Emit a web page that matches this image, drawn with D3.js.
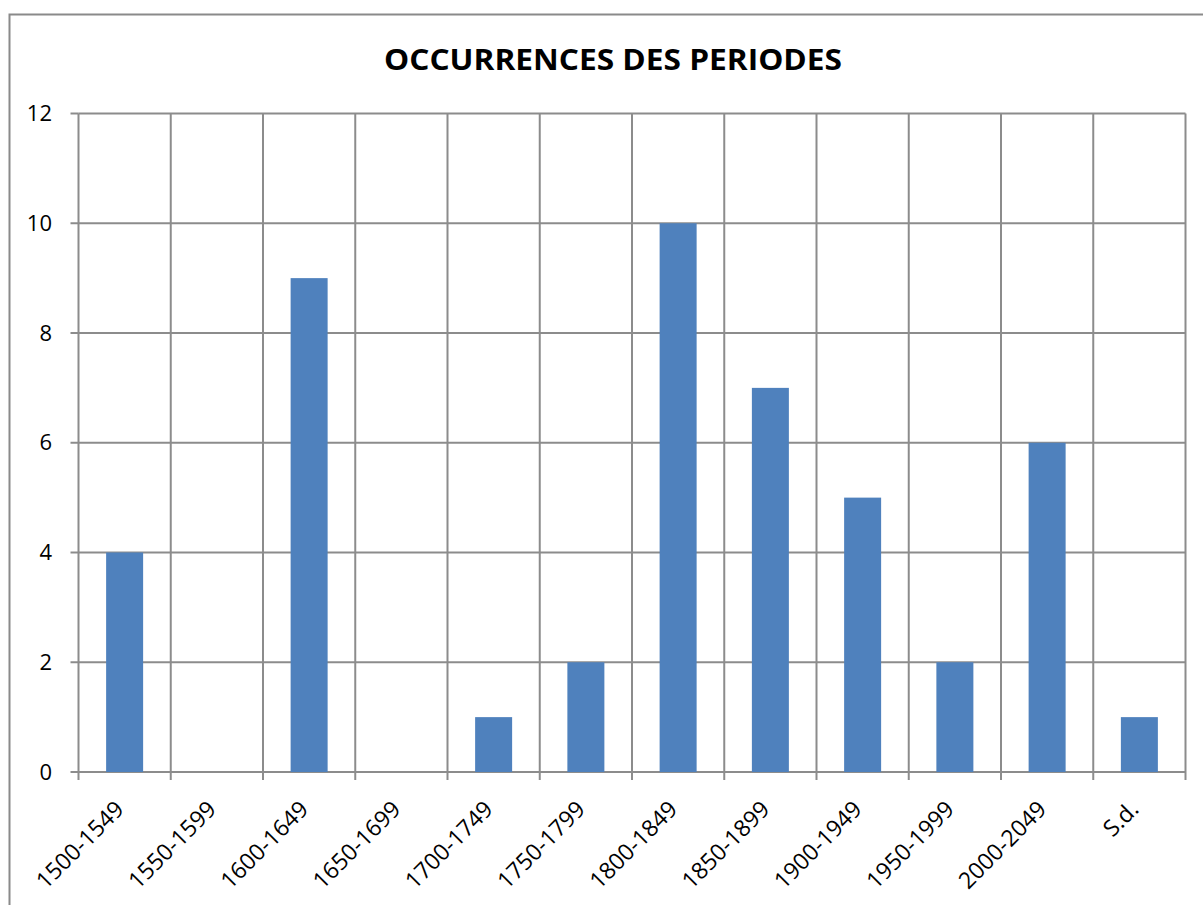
<!DOCTYPE html>
<html>
<head>
<meta charset="utf-8">
<script src="https://cdn.jsdelivr.net/npm/d3@7"></script>
<style>
  html, body { margin: 0; padding: 0; background: #fff; }
  svg { display: block; }
  text { font-family: "Open Sans", "Liberation Sans", sans-serif; fill: #000; }
</style>
</head>
<body>
<svg id="chart" width="1203" height="905"></svg>
<script>
// Period categories and their occurrence counts
const periods = ["1500-1549", "1550-1599", "1600-1649", "1650-1699", "1700-1749", "1750-1799",
                 "1800-1849", "1850-1899", "1900-1949", "1950-1999", "2000-2049", "S.d."];
const counts = [4, 0, 9, 0, 1, 2, 10, 7, 5, 2, 6, 1];
const yTicks = [0, 2, 4, 6, 8, 10, 12];
const title = "OCCURRENCES DES PERIODES";

const svg = d3.select("#chart");
const margin = { left: 78.5, right: 1185.5, top: 113.5, bottom: 772 };
const gridColor = "#8c8c8c";

// Outer chart frame
svg.append("rect")
  .attr("x", 9.5).attr("y", 14.5)
  .attr("width", 1210).attr("height", 910)
  .attr("fill", "none").attr("stroke", "#8a8a8a").attr("stroke-width", 2);

const x = d3.scaleBand().domain(periods).range([margin.left, margin.right]).paddingInner(0).paddingOuter(0);
const y = d3.scaleLinear().domain([0, 12]).range([margin.bottom, margin.top]);

// Horizontal gridlines
svg.append("g").selectAll("line").data(yTicks).join("line")
  .attr("x1", margin.left).attr("x2", margin.right)
  .attr("y1", d => y(d)).attr("y2", d => y(d))
  .attr("stroke", gridColor).attr("stroke-width", 2);

// Vertical gridlines at category boundaries
const bounds = periods.map(p => x(p)).concat([margin.right]);
svg.append("g").selectAll("line").data(bounds).join("line")
  .attr("x1", d => d).attr("x2", d => d)
  .attr("y1", margin.top).attr("y2", margin.bottom + 8)
  .attr("stroke", gridColor).attr("stroke-width", 2);

// Y-axis tick marks
svg.append("g").selectAll("line").data(yTicks).join("line")
  .attr("x1", margin.left - 8).attr("x2", margin.left)
  .attr("y1", d => y(d)).attr("y2", d => y(d))
  .attr("stroke", gridColor).attr("stroke-width", 2);

// Bars
const barW = 37;
svg.append("g").selectAll("rect").data(counts).join("rect")
  .attr("x", (d, i) => x(periods[i]) + x.bandwidth() / 2 - barW / 2)
  .attr("width", barW)
  .attr("y", d => y(d))
  .attr("height", d => y(0) - y(d))
  .attr("fill", "#4f81bd");

// Y tick labels
svg.append("g").selectAll("text").data(yTicks).join("text")
  .attr("x", 52).attr("y", d => y(d))
  .attr("dy", "0.35em")
  .attr("text-anchor", "end")
  .attr("font-size", 22)
  .text(d => d);

// Category labels rotated 45°
svg.append("g").selectAll("text").data(periods).join("text")
  .attr("transform", p => `translate(${x(p) + x.bandwidth() / 2 - 5},${margin.bottom + 33}) rotate(-45)`)
  .attr("text-anchor", "end")
  .attr("dy", "0.35em")
  .attr("font-size", 23)
  .text(p => p);

// Title
svg.append("text")
  .attr("x", 613).attr("y", 70)
  .attr("text-anchor", "middle")
  .attr("font-size", 28)
  .attr("font-weight", "bold")
  .attr("textLength", 458)
  .attr("lengthAdjust", "spacingAndGlyphs")
  .text(title);
</script>
</body>
</html>
